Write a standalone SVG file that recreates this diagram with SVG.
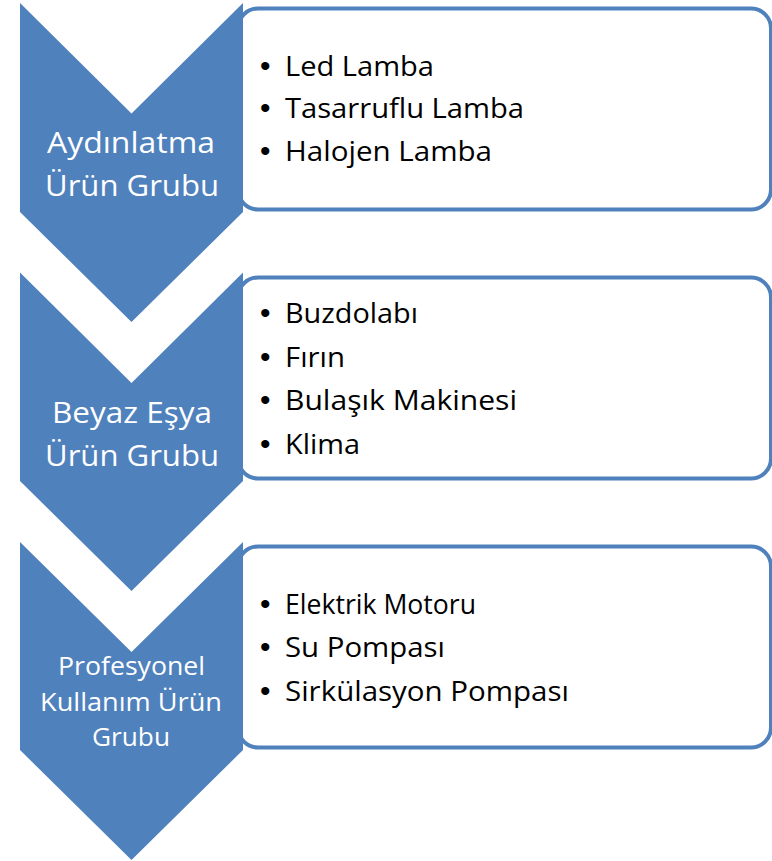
<svg xmlns="http://www.w3.org/2000/svg" width="772" height="861" viewBox="0 0 772 861">
<style>
.chev{fill:#4F81BD;stroke:none}
.box{fill:#FFFFFF;stroke:#4F81BD;stroke-width:4}
.lbl{font-family:"Open Sans","Noto Sans","Liberation Sans",sans-serif;font-size:30px;fill:#FFFFFF;text-anchor:middle}
.lbl.sm{font-size:25px}
.item{font-family:"Open Sans","Noto Sans","Liberation Sans",sans-serif;font-size:28px;fill:#000000}
.bul{font-family:"Liberation Sans",sans-serif;font-size:30px}
</style>
<rect x="0" y="0" width="772" height="861" fill="#FFFFFF"/>
<g id="node-aydinlatma">
<rect class="box" x="238" y="8.5" width="533" height="201" rx="20" ry="20"/>
<polygon class="chev" points="20,3 131.5,113.5 243,3 243,212 131.5,322 20,212"/>
<text class="lbl" x="131" y="153" textLength="168" lengthAdjust="spacingAndGlyphs">Aydınlatma</text>
<text class="lbl" x="132" y="196" textLength="174" lengthAdjust="spacingAndGlyphs">Ürün Grubu</text>
<text class="item" y="76"><tspan class="bul" x="260">•</tspan> <tspan x="285" textLength="149" lengthAdjust="spacingAndGlyphs">Led Lamba</tspan></text>
<text class="item" y="118"><tspan class="bul" x="260">•</tspan> <tspan x="285" textLength="239" lengthAdjust="spacingAndGlyphs">Tasarruflu Lamba</tspan></text>
<text class="item" y="161"><tspan class="bul" x="260">•</tspan> <tspan x="285" textLength="207" lengthAdjust="spacingAndGlyphs">Halojen Lamba</tspan></text>
</g>
<g id="node-beyaz-esya">
<rect class="box" x="238" y="277.5" width="533" height="201" rx="20" ry="20"/>
<polygon class="chev" points="20,272.5 131.5,383 243,272.5 243,481 131.5,591 20,481"/>
<text class="lbl" x="132" y="423" textLength="160" lengthAdjust="spacingAndGlyphs">Beyaz Eşya</text>
<text class="lbl" x="132" y="466" textLength="174" lengthAdjust="spacingAndGlyphs">Ürün Grubu</text>
<text class="item" y="323"><tspan class="bul" x="260">•</tspan> <tspan x="285" textLength="133" lengthAdjust="spacingAndGlyphs">Buzdolabı</tspan></text>
<text class="item" y="367"><tspan class="bul" x="260">•</tspan> <tspan x="285" textLength="60" lengthAdjust="spacingAndGlyphs">Fırın</tspan></text>
<text class="item" y="410"><tspan class="bul" x="260">•</tspan> <tspan x="285" textLength="232" lengthAdjust="spacingAndGlyphs">Bulaşık Makinesi</tspan></text>
<text class="item" y="454"><tspan class="bul" x="260">•</tspan> <tspan x="285" textLength="75" lengthAdjust="spacingAndGlyphs">Klima</tspan></text>
</g>
<g id="node-profesyonel">
<rect class="box" x="238" y="546.5" width="533" height="201" rx="20" ry="20"/>
<polygon class="chev" points="20,542 131.5,652 243,542 243,750 131.5,860 20,750"/>
<text class="lbl sm" x="131.5" y="675" textLength="147" lengthAdjust="spacingAndGlyphs">Profesyonel</text>
<text class="lbl sm" x="131" y="711" textLength="182" lengthAdjust="spacingAndGlyphs">Kullanım Ürün</text>
<text class="lbl sm" x="131" y="746" textLength="78" lengthAdjust="spacingAndGlyphs">Grubu</text>
<text class="item" y="614"><tspan class="bul" x="260">•</tspan> <tspan x="285" textLength="191" lengthAdjust="spacingAndGlyphs">Elektrik Motoru</tspan></text>
<text class="item" y="657"><tspan class="bul" x="260">•</tspan> <tspan x="285" textLength="160" lengthAdjust="spacingAndGlyphs">Su Pompası</tspan></text>
<text class="item" y="701"><tspan class="bul" x="260">•</tspan> <tspan x="285" textLength="284" lengthAdjust="spacingAndGlyphs">Sirkülasyon Pompası</tspan></text>
</g>
</svg>
